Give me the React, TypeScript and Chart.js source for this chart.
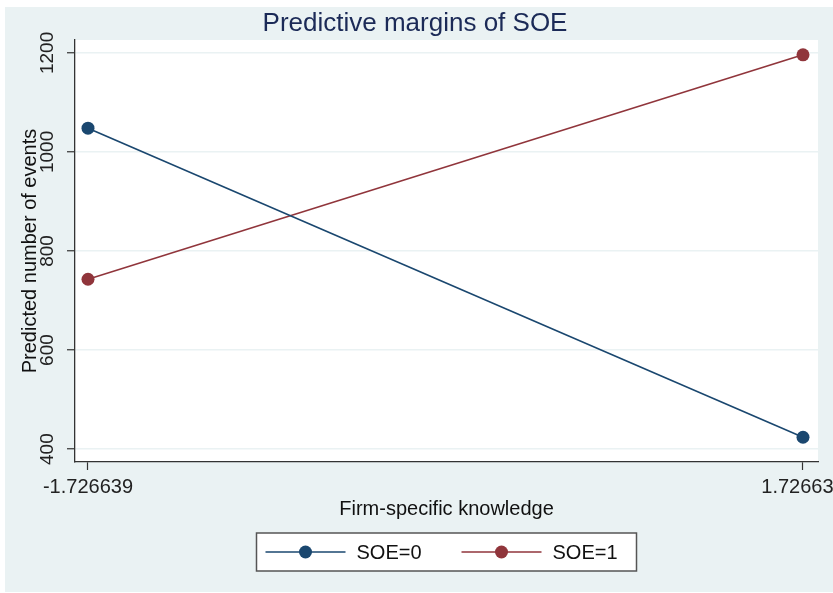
import React, { useEffect, useRef } from 'react';
import { Chart, registerables } from 'chart.js';

Chart.register(...registerables);

const chartTitle = 'Predictive margins of SOE';
const xAxisTitle = 'Firm-specific knowledge';
const yAxisTitle = 'Predicted number of events';
const seriesLabels = ['SOE=0', 'SOE=1'];
const xValues = [-1.726639, 1.726639];
const soe0Values = [1048, 424];
const soe1Values = [743, 1196];
const yTickValues = [400, 600, 800, 1000, 1200];
const xTickValues = [-1.726639, 1.726639];
const xTickLabels = ['-1.726639', '1.726639'];

const FONT = '"Liberation Sans", Arial, Helvetica, sans-serif';
const BG = '#eaf2f3';
const BLUE = '#1a476f';
const RED = '#90353b';
const AXIS = '#333333';

const decorPlugin = {
  id: 'decor',
  beforeDraw(chart: any) {
    const { ctx, chartArea: a, width, height } = chart;
    ctx.save();
    ctx.fillStyle = '#ffffff';
    ctx.fillRect(0, 0, width, height);
    ctx.fillStyle = BG;
    ctx.fillRect(5, 7, width - 5, height - 8);
    ctx.fillStyle = '#ffffff';
    ctx.fillRect(a.left, a.top, a.right - a.left, a.bottom - a.top);
    ctx.restore();
  },
  afterDraw(chart: any) {
    const { ctx, chartArea: a } = chart;
    ctx.save();
    // title
    ctx.fillStyle = '#1b2a57';
    ctx.font = `26px ${FONT}`;
    ctx.textAlign = 'center';
    ctx.textBaseline = 'alphabetic';
    ctx.fillText(chartTitle, 415, 31);

    // legend
    const cx = (a.left + a.right) / 2;
    const bw = 380;
    const bh = 38;
    const bx = cx - bw / 2;
    const by = 533;
    ctx.fillStyle = '#ffffff';
    ctx.fillRect(bx, by, bw, bh);
    ctx.strokeStyle = '#555555';
    ctx.lineWidth = 1.5;
    ctx.strokeRect(bx, by, bw, bh);
    const ly = by + bh / 2;
    chart.data.datasets.forEach((ds: any, i: number) => {
      const x0 = bx + 9 + i * 196;
      ctx.strokeStyle = ds.borderColor;
      ctx.lineWidth = 1.5;
      ctx.beginPath();
      ctx.moveTo(x0, ly);
      ctx.lineTo(x0 + 80, ly);
      ctx.stroke();
      ctx.fillStyle = ds.pointBackgroundColor;
      ctx.beginPath();
      ctx.arc(x0 + 40, ly, 6.5, 0, Math.PI * 2);
      ctx.fill();
      ctx.fillStyle = '#111111';
      ctx.font = `20px ${FONT}`;
      ctx.textAlign = 'left';
      ctx.textBaseline = 'middle';
      ctx.fillText(ds.label, x0 + 91, ly + 1);
    });
    ctx.restore();
  },
};

export default function App() {
  const canvasRef = useRef<HTMLCanvasElement | null>(null);

  useEffect(() => {
    if (!canvasRef.current) return;
    const makeData = (vals: number[]) => xValues.map((x, i) => ({ x, y: vals[i] }));
    const chart = new Chart(canvasRef.current, {
      type: 'line',
      data: {
        datasets: [
          {
            label: seriesLabels[0],
            data: makeData(soe0Values),
            borderColor: BLUE,
            backgroundColor: BLUE,
            pointBackgroundColor: BLUE,
            pointBorderWidth: 0,
            pointRadius: 6.5,
            borderWidth: 1.6,
          },
          {
            label: seriesLabels[1],
            data: makeData(soe1Values),
            borderColor: RED,
            backgroundColor: RED,
            pointBackgroundColor: RED,
            pointBorderWidth: 0,
            pointRadius: 6.5,
            borderWidth: 1.6,
          },
        ],
      },
      options: {
        responsive: false,
        animation: false,
        layout: { padding: { left: 0, right: 15, top: 40, bottom: 0 } },
        plugins: {
          legend: { display: false },
          title: { display: false },
          tooltip: { enabled: false },
        },
        scales: {
          x: {
            type: 'linear',
            min: -1.7894,
            max: 1.7991,
            afterBuildTicks: (s: any) => {
              s.ticks = xTickValues.map((v) => ({ value: v }));
            },
            afterFit: (s: any) => {
              s.height = 131;
              s.paddingLeft = 0;
              s.paddingRight = 0;
            },
            ticks: {
              callback: (_v: any, i: number) => xTickLabels[i],
              autoSkip: false,
              maxRotation: 0,
              minRotation: 0,
              padding: 5,
              color: '#222222',
              font: { family: FONT, size: 20 },
            },
            grid: {
              drawOnChartArea: false,
              drawTicks: true,
              tickLength: 8,
              tickColor: AXIS,
              tickWidth: 1.2,
            },
            border: { display: true, color: AXIS, width: 1.3 },
            title: {
              display: true,
              text: xAxisTitle,
              color: '#111111',
              font: { family: FONT, size: 20 },
              padding: { top: 0, bottom: 72 },
            },
          },
          y: {
            type: 'linear',
            min: 374,
            max: 1226,
            afterBuildTicks: (s: any) => {
              s.ticks = yTickValues.map((v) => ({ value: v }));
            },
            afterFit: (s: any) => {
              s.width = 75;
              s.paddingTop = 0;
              s.paddingBottom = 0;
            },
            ticks: {
              callback: (v: any) => String(v),
              minRotation: 90,
              maxRotation: 90,
              crossAlign: 'center',
              padding: -2,
              color: '#222222',
              font: { family: FONT, size: 19 },
            },
            grid: {
              color: BG,
              lineWidth: 1.5,
              drawTicks: true,
              tickLength: 8,
              tickColor: AXIS,
              tickWidth: 1.2,
            },
            border: { display: true, color: AXIS, width: 1.3 },
            title: {
              display: true,
              text: yAxisTitle,
              color: '#111111',
              font: { family: FONT, size: 20 },
              padding: { top: 18, bottom: 0 },
            },
          },
        },
      },
      plugins: [decorPlugin],
    } as any);
    return () => chart.destroy();
  }, []);

  return (
    <div style={{ position: 'absolute', left: 0, top: 0, width: 833, height: 593 }}>
      <canvas ref={canvasRef} width={833} height={593} style={{ display: 'block' }} />
    </div>
  );
}
